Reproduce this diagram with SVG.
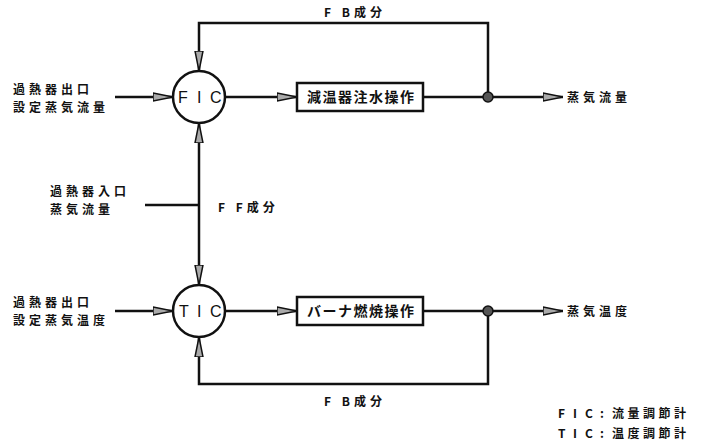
<svg xmlns="http://www.w3.org/2000/svg" width="714" height="445" viewBox="0 0 714 445">
<style>
.ln{fill:none;stroke:#111;stroke-width:2.5}
.nd{fill:#fff;stroke:#111;stroke-width:2.5}
.t{font-family:"Noto Sans CJK JP","Liberation Sans",sans-serif;font-size:12px;font-weight:bold;fill:#111;letter-spacing:4px}
.lg{font-family:"Noto Sans CJK JP","Liberation Sans",sans-serif;font-size:12px;font-weight:bold;fill:#111;letter-spacing:3.5px}
.b{font-family:"Noto Sans CJK JP","Liberation Sans",sans-serif;font-size:14px;font-weight:bold;fill:#111;letter-spacing:1.5px}
.tl{font-family:"Liberation Sans","Noto Sans CJK JP",sans-serif;font-size:16px;fill:#111}
.j{fill:#555;stroke:#111;stroke-width:1.5}
</style>
<defs>
<marker id="ah" viewBox="0 0 20 10" refX="20" refY="5" markerWidth="20" markerHeight="10" markerUnits="userSpaceOnUse" orient="auto">
<path d="M0,1 L20,5 L0,9 Z" fill="#aaa" stroke="#111" stroke-width="1.5"/>
</marker>
</defs>
<g id="connectors">
<path class="ln" d="M488,97 V23 H199 V71" marker-end="url(#ah)"/>
<path class="ln" d="M115,97 H173" marker-end="url(#ah)"/>
<path class="ln" d="M226,97 H297" marker-end="url(#ah)"/>
<path class="ln" d="M423,97 H563" marker-end="url(#ah)"/>
<path class="ln" d="M199,205 V123" marker-end="url(#ah)"/>
<path class="ln" d="M199,205 V285" marker-end="url(#ah)"/>
<path class="ln" d="M145,205 H199"/>
<path class="ln" d="M115,311 H173" marker-end="url(#ah)"/>
<path class="ln" d="M226,311 H297" marker-end="url(#ah)"/>
<path class="ln" d="M423,311 H563" marker-end="url(#ah)"/>
<path class="ln" d="M488,311 V384 H199 V337" marker-end="url(#ah)"/>
</g>
<g id="fic">
<circle class="nd" cx="199" cy="97" r="26"/>
<text class="tl" x="178" y="103">F</text><text class="tl" x="197" y="103">I</text><text class="tl" x="210" y="103">C</text>
</g>
<g id="tic">
<circle class="nd" cx="199" cy="311" r="26"/>
<text class="tl" x="179" y="317">T</text><text class="tl" x="197" y="317">I</text><text class="tl" x="210" y="317">C</text>
</g>
<g id="box1">
<rect class="nd" x="297" y="83" width="126" height="28"/>
<text class="b" x="307" y="102">減温器注水操作</text>
</g>
<g id="box2">
<rect class="nd" x="297" y="297" width="126" height="28"/>
<text class="b" x="307" y="316">バーナ燃焼操作</text>
</g>
<g id="junction1"><circle class="j" cx="488" cy="97" r="5"/></g>
<g id="junction2"><circle class="j" cx="488" cy="311" r="5"/></g>
<g id="labels">
<text class="t" x="13" y="94">過熱器出口</text>
<text class="t" x="13" y="112">設定蒸気流量</text>
<text class="t" x="13" y="307">過熱器出口</text>
<text class="t" x="13" y="325">設定蒸気温度</text>
<text class="t" x="50" y="196">過熱器入口</text>
<text class="t" x="50" y="214">蒸気流量</text>
<text class="t" x="218" y="212">F  F成分</text>
<text class="t" x="324" y="17">F  B成分</text>
<text class="t" x="324" y="406">F  B成分</text>
<text class="t" x="567" y="102">蒸気流量</text>
<text class="t" x="567" y="316">蒸気温度</text>
</g>
<g id="legend">
<text class="lg" y="418"><tspan x="558">F</tspan><tspan x="573">I</tspan><tspan x="585">C</tspan><tspan x="600">:</tspan><tspan x="612">流量調節計</tspan></text>
<text class="lg" y="438"><tspan x="558">T</tspan><tspan x="573">I</tspan><tspan x="585">C</tspan><tspan x="600">:</tspan><tspan x="612">温度調節計</tspan></text>
</g>
</svg>
